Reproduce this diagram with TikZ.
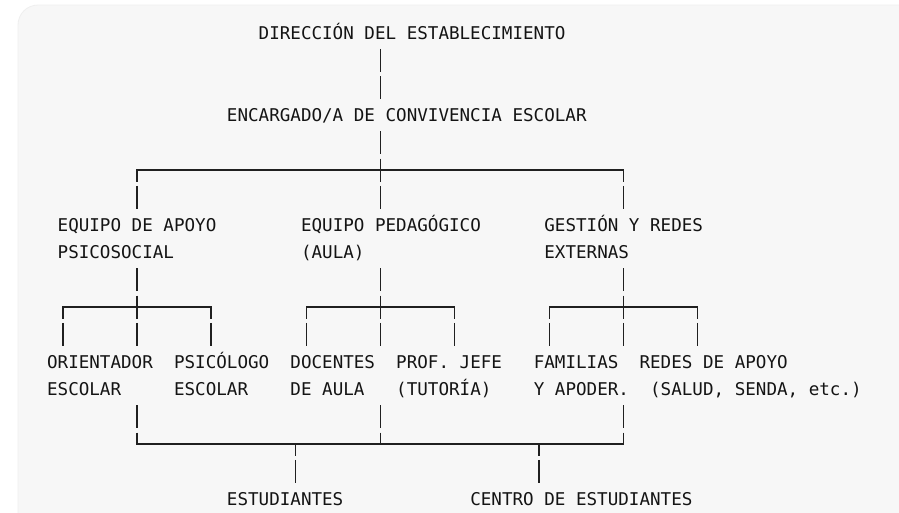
\documentclass[tikz,border=0pt]{standalone}
\usepackage{fontspec}
\newfontfamily\dmono{DejaVu Sans Mono}
\definecolor{bgc}{HTML}{F7F7F7}
\definecolor{bgedge}{HTML}{EFEFEF}
\definecolor{ink}{HTML}{141414}
\definecolor{linec}{HTML}{202020}
\newcommand{\rs}{\rule[-7.4pt]{0pt}{27.4pt}}
\newcommand{\colL}[1]{47.1+10.58*#1}
\newcommand{\colC}[1]{47.1+10.58*(#1+0.5)}
\newcommand{\rowT}[1]{19.3+27.4*#1}
\newcommand{\rowC}[1]{33+27.4*#1}
\begin{document}
\begin{tikzpicture}[x=1pt,y=-1pt,
  lbl/.style={anchor=north west, inner sep=0pt, outer sep=0pt, align=left,
    font=\dmono\fontsize{17.57}{27.4}\selectfont, text=ink},
  hline/.style={draw=linec, line width=1.1pt, line cap=rect},
  vb/.style={draw=linec, line width=1.3pt, dash pattern=on 23pt off 4.4pt, dash phase=25.2pt},
  vc/.style={draw=linec, line width=1.3pt, dash pattern=on 23pt off 4.4pt, dash phase=11.5pt}]
\useasboundingbox (0,0) rectangle (899,512);
\fill[white] (0,0) rectangle (899,512);
\path[fill=bgc, draw=bgedge, line width=0.8pt, rounded corners=20pt]
  (18,560) -- (18,5) -- (940,5) -- (940,560) -- cycle;

% nodes
\node[lbl] (dir) at ({\colL{20}},{\rowT{0}}) {\rs DIRECCIÓN DEL ESTABLECIMIENTO};
\node[lbl] (enc) at ({\colL{17}},{\rowT{3}}) {\rs ENCARGADO/A DE CONVIVENCIA ESCOLAR};
\node[lbl] (eps) at ({\colL{1}},{\rowT{7}}) {\rs EQUIPO DE APOYO\\\rs PSICOSOCIAL};
\node[lbl] (epd) at ({\colL{24}},{\rowT{7}}) {\rs EQUIPO PEDAGÓGICO\\\rs (AULA)};
\node[lbl] (gre) at ({\colL{47}},{\rowT{7}}) {\rs GESTIÓN Y REDES\\\rs EXTERNAS};
\node[lbl] (ori) at ({\colL{0}},{\rowT{12}}) {\rs ORIENTADOR\\\rs ESCOLAR};
\node[lbl] (psi) at ({\colL{12}},{\rowT{12}}) {\rs PSICÓLOGO\\\rs ESCOLAR};
\node[lbl] (doc) at ({\colL{23}},{\rowT{12}}) {\rs DOCENTES\\\rs DE AULA};
\node[lbl] (pjf) at ({\colL{33}},{\rowT{12}}) {\rs PROF. JEFE\\\rs (TUTORÍA)};
\node[lbl] (fam) at ({\colL{46}},{\rowT{12}}) {\rs FAMILIAS\\\rs Y APODER.};
\node[lbl] (red) at ({\colL{56}},{\rowT{12}}) {\rs REDES DE APOYO\\\rs\hphantom{X}(SALUD, SENDA, etc.)};
\node[lbl] (est) at ({\colL{17}},{\rowT{17}}) {\rs ESTUDIANTES};
\node[lbl] (cen) at ({\colL{40}},{\rowT{17}}) {\rs CENTRO DE ESTUDIANTES};

% junction coordinates
\coordinate (a1) at ({\colC{8}},{\rowC{5}});
\coordinate (a2) at ({\colC{31}},{\rowC{5}});
\coordinate (a3) at ({\colC{54}},{\rowC{5}});
\coordinate (b1) at ({\colC{1}},{\rowC{10}});
\coordinate (b2) at ({\colC{8}},{\rowC{10}});
\coordinate (b3) at ({\colC{15}},{\rowC{10}});
\coordinate (c1) at ({\colC{24}},{\rowC{10}});
\coordinate (c2) at ({\colC{31}},{\rowC{10}});
\coordinate (c3) at ({\colC{38}},{\rowC{10}});
\coordinate (d1) at ({\colC{47}},{\rowC{10}});
\coordinate (d2) at ({\colC{54}},{\rowC{10}});
\coordinate (d3) at ({\colC{61}},{\rowC{10}});
\coordinate (e1) at ({\colC{8}},{\rowC{15}});
\coordinate (e2) at ({\colC{31}},{\rowC{15}});
\coordinate (e3) at ({\colC{54}},{\rowC{15}});
\coordinate (f1) at ({\colC{23}},{\rowC{15}});
\coordinate (f2) at ({\colC{46}},{\rowC{15}});

% top
\draw[vb] (dir.south -| a2) -- (enc.north -| a2);
\draw[vb] (enc.south -| a2) -- (epd.north -| a2);
\draw[hline] (a1) -- (a3);
\draw[vc] (a1) -- (eps.north -| a1);
\draw[vc] (a3) -- (gre.north -| a3);

% left group
\draw[vb] (eps.south -| b2) -- (ori.north -| b2);
\draw[hline] (b1) -- (b3);
\draw[vc] (b1) -- (ori.north -| b1);
\draw[vc] (b3) -- (psi.north -| b3);

% middle group
\draw[vb] (epd.south -| c2) -- (doc.north -| c2);
\draw[hline] (c1) -- (c3);
\draw[vc] (c1) -- (doc.north -| c1);
\draw[vc] (c3) -- (pjf.north -| c3);

% right group
\draw[vb] (gre.south -| d2) -- (fam.north -| d2);
\draw[hline] (d1) -- (d3);
\draw[vc] (d1) -- (fam.north -| d1);
\draw[vc] (d3) -- (red.north -| d3);

% bottom
\draw[vb] (ori.south -| e1) -- (e1);
\draw[vb] (doc.south -| e2) -- (e2);
\draw[vb] (fam.south -| e3) -- (e3);
\draw[hline] (e1) -- (e3);
\draw[vc] (f1) -- (est.north -| f1);
\draw[vc] (f2) -- (cen.north -| f2);
\end{tikzpicture}
\end{document}
